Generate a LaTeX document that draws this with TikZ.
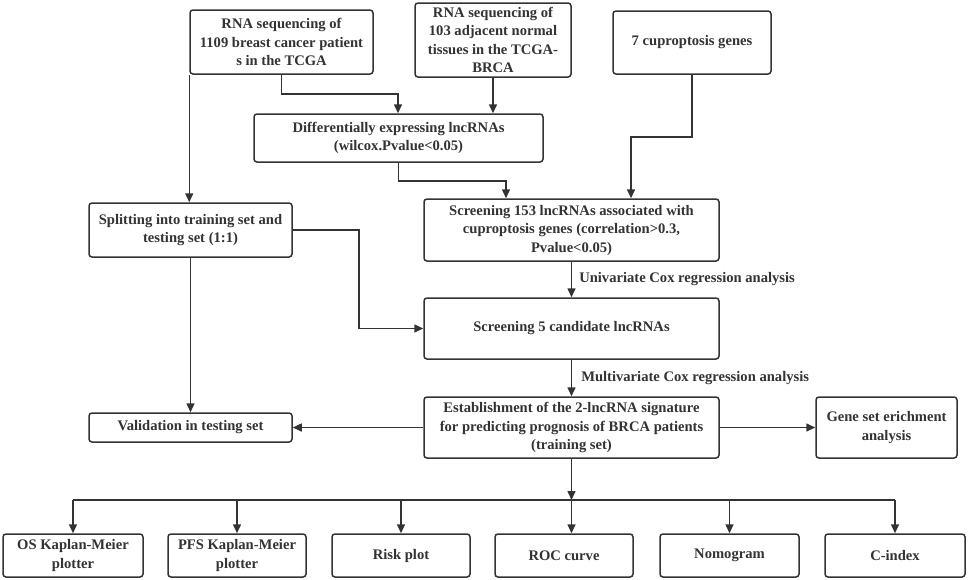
\documentclass[tikz,border=0pt]{standalone}
\usepackage{fontspec}
\setmainfont{Liberation Serif}
\usetikzlibrary{arrows.meta}
\definecolor{ink}{HTML}{333333}
\begin{document}
\begin{tikzpicture}[x=1pt,y=-1pt,
  box/.style={draw=ink, line width=1.5pt, rounded corners=3pt, align=center, inner sep=0pt,
    font=\fontsize{14.6}{18.5}\selectfont\bfseries, text=ink},
  lab/.style={font=\fontsize{14.6}{18.5}\selectfont\bfseries, text=ink, inner sep=0pt},
  arr/.style={draw=ink, line width=1.5pt, -{Triangle[length=9pt,width=8pt]}},
  ln/.style={draw=ink, line width=1.5pt}]
\useasboundingbox (0,0) rectangle (969,579);
\fill[white] (0,0) rectangle (969,579);

\node[box, minimum width=183pt, minimum height=64pt] (b1) at (281.5,42)
  {RNA sequencing of\\1109 breast cancer patient\\s in the TCGA};
\node[box, minimum width=156pt, minimum height=74pt] (b2) at (493,40)
  {RNA sequencing of\\103 adjacent normal\\tissues in the TCGA-\\BRCA};
\node[box, minimum width=158pt, minimum height=63pt] (b3) at (692,42.5)
  {7 cuproptosis genes};
\node[box, minimum width=289pt, minimum height=48pt] (b4) at (398.5,138)
  {Differentially expressing lncRNAs\\(wilcox.Pvalue<0.05)};
\node[box, minimum width=295pt, minimum height=62pt] (b5) at (571.5,230)
  {Screening 153 lncRNAs associated with\\cuproptosis genes (correlation>0.3,\\Pvalue<0.05)};
\node[box, minimum width=203pt, minimum height=54pt] (sp) at (190.5,230)
  {Splitting into training set and\\testing set (1:1)};
\node[box, minimum width=295pt, minimum height=61pt] (b6) at (571.5,328.5)
  {Screening 5 candidate lncRNAs};
\node[box, minimum width=295pt, minimum height=61pt] (b7) at (571.5,427.5)
  {Establishment of the 2-lncRNA signature\\for predicting prognosis of BRCA patients\\(training set)};
\node[box, minimum width=141pt, minimum height=61pt] (b8) at (886.5,427.5)
  {Gene set erichment\\analysis};
\node[box, minimum width=203pt, minimum height=29pt] (va) at (190.5,427.5)
  {Validation in testing set};

\node[box, minimum width=140pt, minimum height=43pt] (os) at (73,555.5) {OS Kaplan-Meier\\plotter};
\node[box, minimum width=138pt, minimum height=43pt] (pfs) at (237,555.5) {PFS Kaplan-Meier\\plotter};
\node[box, minimum width=138pt, minimum height=43pt] (rk) at (401,555.5) {Risk plot};
\node[box, minimum width=138pt, minimum height=43pt] (roc) at (564,555.5) {ROC curve};
\node[box, minimum width=139pt, minimum height=43pt] (nm) at (729.5,555.5) {Nomogram};
\node[box, minimum width=140pt, minimum height=43pt] (ci) at (895,555.5) {C-index};

\coordinate (j1) at (398,94);
\coordinate (j3) at (631,137);
\coordinate (j4) at (506,181);
\coordinate (j5) at (359,230);
\coordinate (hb) at (571.5,500);
\coordinate (hl) at (73,500);
\coordinate (hr) at (895,500);

\draw[arr] (b1.south) |- (j1) -- (j1 |- b4.north);
\draw[arr] (b1.south west) -- (b1.south west |- sp.north);
\draw[arr] (b2.south) -- (b2.south |- b4.north);
\draw[arr] (b3.south) |- (j3) -- (j3 |- b5.north);
\draw[arr] (b4.south) |- (j4) -- (j4 |- b5.north);
\draw[arr] (b5.south) -- node[lab, anchor=west, xshift=7pt] {Univariate Cox regression analysis} (b6.north);
\draw[arr] (b6.south) -- node[lab, anchor=west, xshift=9pt] {Multivariate Cox regression analysis} (b7.north);
\draw[arr] (sp.east) -- (j5) |- (b6.west);
\draw[arr] (sp.south) -- (va.north);
\draw[arr] (b7.west) -- (va.east);
\draw[arr] (b7.east) -- (b8.west);
\draw[arr] (b7.south) -- (hb);
\draw[ln] (hl) -- (hr);
\draw[arr] (hl) -- (hl |- os.north);
\draw[arr] (pfs.north |- hb) -- (pfs.north);
\draw[arr] (rk.north |- hb) -- (rk.north);
\draw[arr] (hb) -- (hb |- roc.north);
\draw[arr] (nm.north |- hb) -- (nm.north);
\draw[arr] (hr) -- (hr |- ci.north);
\end{tikzpicture}
\end{document}
